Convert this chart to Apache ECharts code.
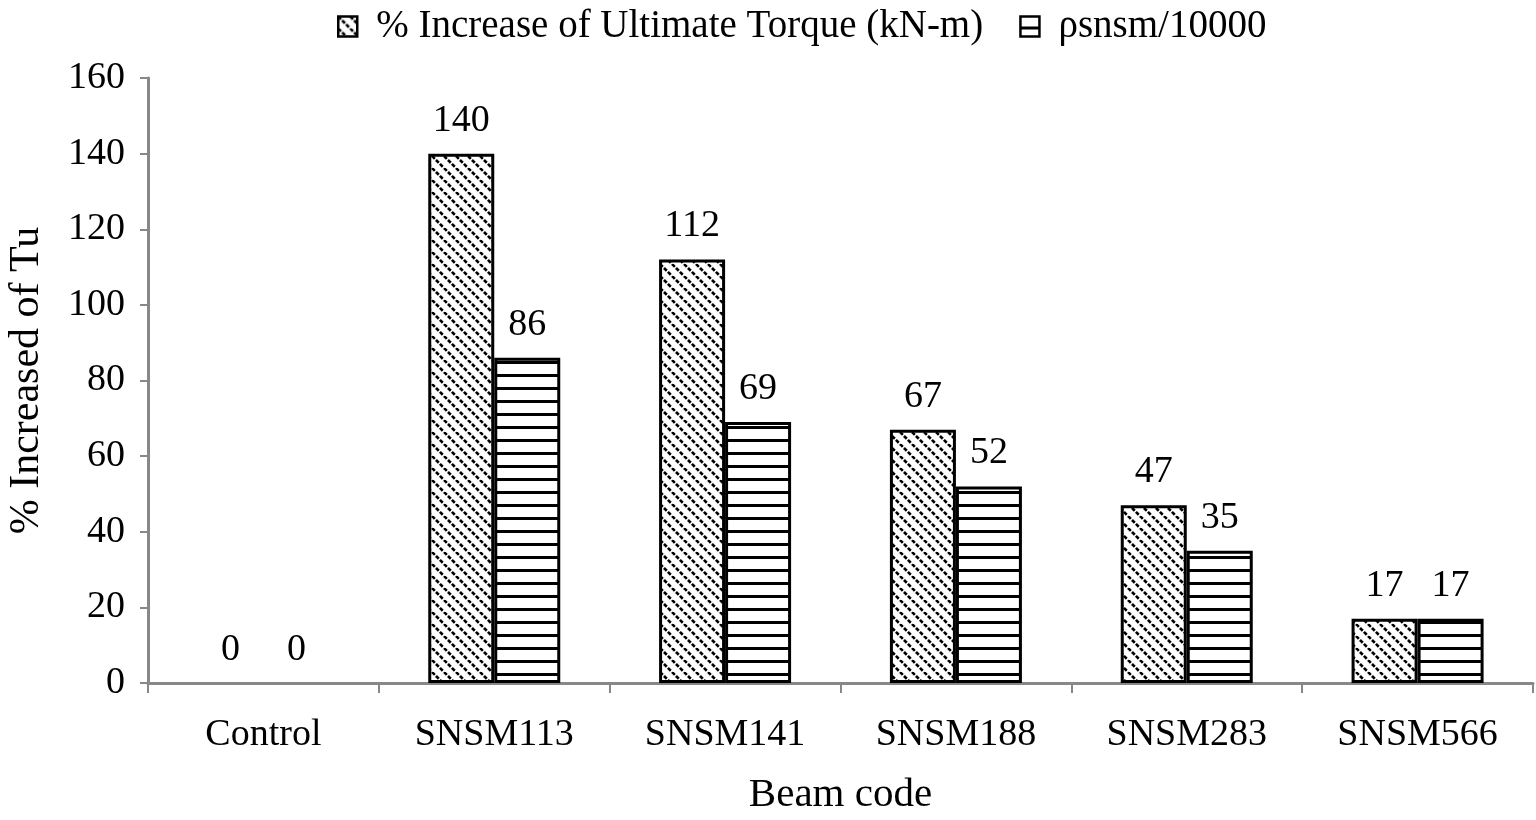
<!DOCTYPE html>
<html>
<head>
<meta charset="utf-8">
<script src="https://cdn.jsdelivr.net/npm/echarts@6/dist/echarts.min.js"></script>
<style>
  html, body { margin: 0; padding: 0; background: #fff; }
  #chart { width: 1536px; height: 820px; }
</style>
</head>
<body>
<div id="chart"></div>
<script>
(function () {
  'use strict';

  var categories = ['Control', 'SNSM113', 'SNSM141', 'SNSM188', 'SNSM283', 'SNSM566'];
  var torqueIncrease = [0, 140, 112, 67, 47, 17];
  var rhoSnsm = [0, 86, 69, 52, 35, 17];
  var seriesNames = ['% Increase of Ultimate Torque (kN-m)', 'ρsnsm/10000'];

  var FONT = 'Liberation Serif, Times New Roman, serif';

  // diagonal hatch, top-left to bottom-right
  function diagPattern() {
    var c = document.createElement('canvas');
    c.width = 12;
    c.height = 12;
    var ctx = c.getContext('2d');
    ctx.fillStyle = '#fff';
    ctx.fillRect(0, 0, 12, 12);
    ctx.strokeStyle = '#000';
    ctx.lineWidth = 2.6;
    ctx.setLineDash([4, 1.6]);
    [-12, 0, 12].forEach(function (o) {
      ctx.beginPath();
      ctx.moveTo(o, 0);
      ctx.lineTo(o + 12, 12);
      ctx.stroke();
    });
    return c;
  }

  // horizontal stripes
  function horizPattern() {
    var c = document.createElement('canvas');
    c.width = 8;
    c.height = 13;
    var ctx = c.getContext('2d');
    ctx.fillStyle = '#fff';
    ctx.fillRect(0, 0, 8, 13);
    ctx.fillStyle = '#000';
    ctx.fillRect(0, 10, 8, 3);
    return c;
  }

  function toData(values) {
    return values.map(function (v) {
      return {
        value: v,
        itemStyle: v === 0 ? { borderWidth: 0, color: 'rgba(0,0,0,0)' } : undefined
      };
    });
  }

  var diag = { image: diagPattern(), repeat: 'repeat' };
  var horiz = { image: horizPattern(), repeat: 'repeat' };

  function makeSeries(name, values, fill) {
    return {
      name: name,
      type: 'bar',
      barWidth: 66,
      barGap: '0%',
      data: toData(values),
      itemStyle: {
        color: fill,
        borderColor: '#000',
        borderWidth: 3
      },
      label: {
        show: true,
        position: 'top',
        distance: 14,
        color: '#000',
        fontFamily: FONT,
        fontSize: 38
      }
    };
  }

  var option = {
    backgroundColor: '#fff',
    animation: false,
    textStyle: { fontFamily: FONT },
    legend: {
      top: 2,
      left: 332,
      itemWidth: 19,
      itemHeight: 20,
      itemGap: 36,
      icon: 'rect',
      itemStyle: { borderWidth: 2.5 },
      textStyle: { fontFamily: FONT, fontSize: 39, color: '#000', padding: [0, 0, 0, 14] },
      data: seriesNames
    },
    grid: {
      left: 148,
      right: 3,
      top: 78,
      bottom: 137,
      outerBoundsMode: 'none'
    },
    xAxis: {
      type: 'category',
      data: categories,
      name: 'Beam code',
      nameLocation: 'middle',
      nameGap: 92,
      nameTextStyle: { fontFamily: FONT, fontSize: 41, color: '#000' },
      axisLine: { lineStyle: { color: '#888', width: 3 } },
      axisTick: { show: true, alignWithLabel: false, length: 10, lineStyle: { color: '#888', width: 2 } },
      axisLabel: { fontFamily: FONT, fontSize: 38, color: '#000', margin: 33 }
    },
    yAxis: {
      type: 'value',
      min: 0,
      max: 160,
      interval: 20,
      name: '% Increased of Tu',
      nameLocation: 'middle',
      nameGap: 100,
      nameTextStyle: { fontFamily: FONT, fontSize: 42, color: '#000' },
      splitLine: { show: false },
      axisLine: { show: true, lineStyle: { color: '#888', width: 3 } },
      axisTick: { show: true, length: 8, lineStyle: { color: '#888', width: 2 } },
      axisLabel: { fontFamily: FONT, fontSize: 38, color: '#000', margin: 23 }
    },
    series: [
      makeSeries(seriesNames[0], torqueIncrease, diag),
      makeSeries(seriesNames[1], rhoSnsm, horiz)
    ]
  };

  var myChart = echarts.init(document.getElementById('chart'));
  myChart.setOption(option);
}());
</script>
</body>
</html>
